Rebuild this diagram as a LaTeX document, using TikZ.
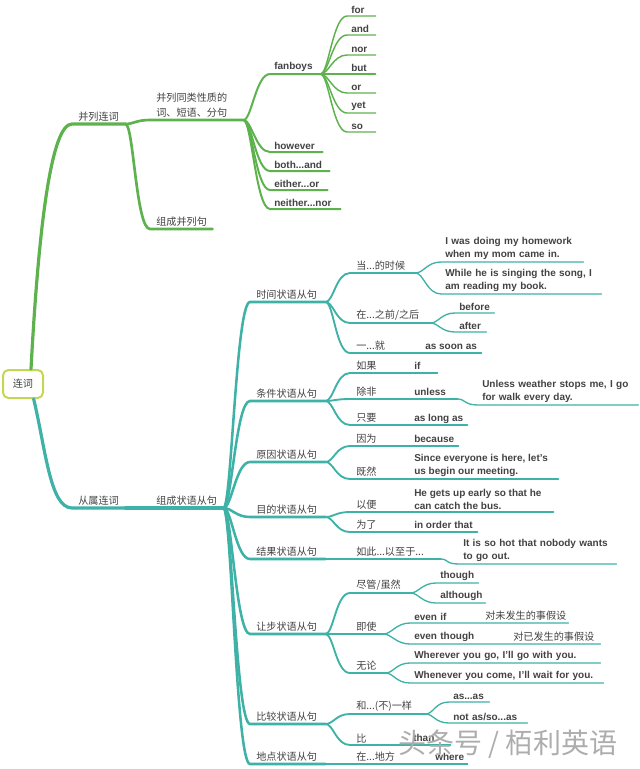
\documentclass[tikz,border=0pt]{standalone}
\usepackage{fontspec}
\setmainfont{Liberation Sans}
\newfontfamily\cjk{Noto Sans CJK SC}
\definecolor{grn}{RGB}{94,178,78}
\definecolor{tea}{RGB}{62,178,166}
\definecolor{rootc}{RGB}{196,214,84}
\definecolor{txt}{RGB}{66,66,66}

\begin{document}
\begin{tikzpicture}[x=0.75pt,y=0.75pt,yscale=-1,xscale=1,
  tp/.style={anchor=south west,inner xsep=4.5pt,inner ysep=1.5pt,align=left,text=txt,text width=#1*0.75pt-9pt},
  sn/.style={tp=#1,inner xsep=3pt,text width=#1*0.75pt-6pt},
  ft/.style={anchor=base west,inner sep=0pt,text=txt},
  en/.style={font=\fontsize{7.5}{9.75}\selectfont\bfseries},
  zh/.style={font=\cjk\fontsize{7.6}{11.25}\selectfont},
  lk/.style={to path={.. controls +(8,0) and +(-14,0) .. (\tikztotarget)}},
  gl/.style={draw=grn,line width=#1,line cap=round},
  tl/.style={draw=tea,line width=#1,line cap=round}]
\useasboundingbox (0,0) rectangle (640,769);

% Root
\node[draw=rootc,line width=1.5pt,rounded corners=4pt,fill=white,minimum width=30pt,minimum height=21pt,text=txt,zh] (root) at (23,384) {连词};

%Branch: 并列连词
\node[tp=53,zh] (bl) at (72,124) {并列连词};
\node[tp=93,zh] (tlx) at (150,120) {并列同类性质的\\词、短语、分句};
\node[tp=62,zh] (zb) at (150,229) {组成并列句};
\node[sn=50,en] (fb) at (270,74) {fanboys};
\node[sn=52,en] (hw) at (270,152) {however};
\node[sn=59,en] (ba) at (270,171) {both...and};
\node[sn=57,en] (eo) at (270,190) {either...or};
\node[sn=70,en] (nn) at (270,209) {neither...nor};
\node[sn=28,en] (fw1) at (347,16) {for};
\node[sn=28,en] (fw2) at (347,35) {and};
\node[sn=28,en] (fw3) at (347,55) {nor};
\node[sn=28,en] (fw4) at (347,74) {but};
\node[sn=28,en] (fw5) at (347,93) {or};
\node[sn=28,en] (fw6) at (347,113) {yet};
\node[sn=28,en] (fw7) at (347,132) {so};

\draw[gl=2.4pt] ([xshift=6pt]root.north) .. controls +(8,-150) and +(-20,0) .. (bl.south west) -- (bl.south east);
\draw[gl=2pt] (bl.south east) to[lk] (tlx.south west) -- (tlx.south east);
\draw[gl=2pt] (bl.south east) to[lk] (zb.south west) -- (zb.south east);
\draw[gl=1.5pt] (tlx.south east) to[lk] (fb.south west) -- (fb.south east);
\draw[gl=1.5pt] (tlx.south east) to[lk] (hw.south west) -- (hw.south east);
\draw[gl=1.5pt] (tlx.south east) to[lk] (ba.south west) -- (ba.south east);
\draw[gl=1.5pt] (tlx.south east) to[lk] (eo.south west) -- (eo.south east);
\draw[gl=1.5pt] (tlx.south east) to[lk] (nn.south west) -- (nn.south east);
\draw[gl=1.1pt] (fb.south east) to[lk] (fw1.south west) -- (fw1.south east);
\draw[gl=1.1pt] (fb.south east) to[lk] (fw2.south west) -- (fw2.south east);
\draw[gl=1.1pt] (fb.south east) to[lk] (fw3.south west) -- (fw3.south east);
\draw[gl=1.1pt] (fb.south east) to[lk] (fw4.south west) -- (fw4.south east);
\draw[gl=1.1pt] (fb.south east) to[lk] (fw5.south west) -- (fw5.south east);
\draw[gl=1.1pt] (fb.south east) to[lk] (fw6.south west) -- (fw6.south east);
\draw[gl=1.1pt] (fb.south east) to[lk] (fw7.south west) -- (fw7.south east);

%Branch: 从属连词
\node[tp=53,zh] (cs) at (72,508) {从属连词};
\node[tp=73,zh] (zz) at (150,508) {组成状语从句};
\node[tp=75,zh] (sj) at (250,302) {时间状语从句};
\node[tp=75,zh] (tj) at (250,401) {条件状语从句};
\node[tp=75,zh] (yy) at (250,462) {原因状语从句};
\node[tp=75,zh] (md) at (250,517) {目的状语从句};
\node[tp=75,zh] (jg) at (250,559) {结果状语从句};
\node[tp=75,zh] (rb) at (250,634) {让步状语从句};
\node[tp=75,zh] (bj) at (250,724) {比较状语从句};
\node[tp=75,zh] (dd) at (250,764) {地点状语从句};

\draw[tl=2.4pt] ([xshift=8pt]root.south) .. controls +(12,50) and +(-22,0) .. (cs.south west) -- (cs.south east);
\draw[tl=2.4pt] (cs.south east) to[lk] (zz.south west) -- (zz.south east);
\draw[tl=1.9pt] (zz.south east) to[lk] (sj.south west) -- (sj.south east);
\draw[tl=1.9pt] (zz.south east) to[lk] (tj.south west) -- (tj.south east);
\draw[tl=1.9pt] (zz.south east) to[lk] (yy.south west) -- (yy.south east);
\draw[tl=1.9pt] (zz.south east) to[lk] (md.south west) -- (md.south east);
\draw[tl=1.9pt] (zz.south east) to[lk] (jg.south west) -- (jg.south east);
\draw[tl=1.9pt] (zz.south east) to[lk] (rb.south west) -- (rb.south east);
\draw[tl=1.9pt] (zz.south east) to[lk] (bj.south west) -- (bj.south east);
\draw[tl=1.9pt] (zz.south east) to[lk] (dd.south west) -- (dd.south east);

% 时间状语从句
\node[tp=65,zh] (dang) at (350,273) {当...的时候};
\node[tp=80,zh] (zai) at (350,323) {在...之前/之后};
\node[tp=131,zh] (yj) at (350,353) {一...就};
\node[ft,en] (asa) at (425,349) {as soon as};
\node[sn=142,en] (s1) at (441,262) {I was doing my homework\\when my mom came in.};
\node[sn=160,en] (s2) at (441,294) {While he is singing the song, I\\am reading my book.};
\node[sn=39,en] (bf) at (455,313) {before};
\node[sn=31,en] (af) at (455,332) {after};
\draw[tl=1.4pt] (sj.south east) to[lk] (dang.south west) -- (dang.south east);
\draw[tl=1.4pt] (sj.south east) to[lk] (zai.south west) -- (zai.south east);
\draw[tl=1.4pt] (sj.south east) to[lk] (yj.south west) -- (yj.south east);
\draw[tl=1pt] (dang.south east) to[lk] (s1.south west) -- (s1.south east);
\draw[tl=1pt] (dang.south east) to[lk] (s2.south west) -- (s2.south east);
\draw[tl=1pt] (zai.south east) to[lk] (bf.south west) -- (bf.south east);
\draw[tl=1pt] (zai.south east) to[lk] (af.south west) -- (af.south east);

% 条件状语从句
\node[tp=87,zh] (rg) at (350,373) {如果};
\node[ft,en] (ifw) at (414,369) {if};
\node[tp=107,zh] (cf) at (350,399) {除非};
\node[ft,en] (unl) at (414,395) {unless};
\node[tp=117,zh] (zy) at (350,425) {只要};
\node[ft,en] (alw) at (414,421) {as long as};
\node[sn=160,en] (uw) at (478,405) {Unless weather stops me, I go\\for walk every day.};
\draw[tl=1.4pt] (tj.south east) to[lk] (rg.south west) -- (rg.south east);
\draw[tl=1.4pt] (tj.south east) to[lk] (cf.south west) -- (cf.south east);
\draw[tl=1.4pt] (tj.south east) to[lk] (zy.south west) -- (zy.south east);
\draw[tl=1pt] (cf.south east) to[lk] (uw.south west) -- (uw.south east);

% 原因状语从句
\node[tp=108,zh] (yw) at (350,446) {因为};
\node[ft,en] (bec) at (414,442) {because};
\node[tp=208,zh] (jr) at (350,479) {既然};
\node[anchor=south west,inner xsep=0pt,inner ysep=1.5pt,align=left,text=txt,en] (snc) at (414,479) {Since everyone is here, let's\\us begin our meeting.};
\draw[tl=1.4pt] (yy.south east) to[lk] (yw.south west) -- (yw.south east);
\draw[tl=1.4pt] (yy.south east) to[lk] (jr.south west) -- (jr.south east);

% 目的状语从句
\node[tp=203,zh] (yb) at (350,512) {以便};
\node[anchor=south west,inner xsep=0pt,inner ysep=1.5pt,align=left,text=txt,en] (hg) at (414,512) {He gets up early so that he\\can catch the bus.};
\node[tp=127,zh] (wl) at (350,532) {为了};
\node[ft,en] (iot) at (414,528) {in order that};
\draw[tl=1.4pt] (md.south east) to[lk] (yb.south west) -- (yb.south east);
\draw[tl=1.4pt] (md.south east) to[lk] (wl.south west) -- (wl.south east);

% 结果状语从句
\node[tp=90,zh] (rc) at (350,559) {如此...以至于...};
\node[sn=157,en] (hot) at (459,564) {It is so hot that nobody wants\\to go out.};
\draw[tl=1.4pt] (jg.south east) to[lk] (rc.south west) -- (rc.south east);
\draw[tl=1pt] (rc.south east) to[lk] (hot.south west) -- (hot.south east);

% 让步状语从句
\node[tp=60,zh] (jgs) at (350,593) {尽管/虽然};
\node[sn=42,en] (th) at (436,583) {though};
\node[sn=49,en] (alt) at (436,603) {although};
\node[tp=33,zh] (js) at (350,634) {即使};
\node[sn=158,en] (evi) at (410,623) {even if};
\node[ft,zh] (wfs) at (485,619) {对未发生的事假设};
\node[sn=190,en] (evt) at (410,644) {even though};
\node[ft,zh] (yfs) at (513,640) {对已发生的事假设};
\node[tp=35,zh] (wlun) at (350,673) {无论};
\node[sn=190,en] (wh1) at (410,663) {Wherever you go, I'll go with you.};
\node[sn=193,en] (wh2) at (410,683) {Whenever you come, I'll wait for you.};
\draw[tl=1.4pt] (rb.south east) to[lk] (jgs.south west) -- (jgs.south east);
\draw[tl=1.4pt] (rb.south east) to[lk] (js.south west) -- (js.south east);
\draw[tl=1.4pt] (rb.south east) to[lk] (wlun.south west) -- (wlun.south east);
\draw[tl=1pt] (jgs.south east) to[lk] (th.south west) -- (th.south east);
\draw[tl=1pt] (jgs.south east) to[lk] (alt.south west) -- (alt.south east);
\draw[tl=1pt] (js.south east) to[lk] (evi.south west) -- (evi.south east);
\draw[tl=1pt] (js.south east) to[lk] (evt.south west) -- (evt.south east);
\draw[tl=1pt] (wlun.south east) to[lk] (wh1.south west) -- (wh1.south east);
\draw[tl=1pt] (wlun.south east) to[lk] (wh2.south west) -- (wh2.south east);

% 比较状语从句
\node[tp=75,zh] (hy) at (350,714) {和...(不)一样};
\node[sn=40,en] (asas) at (449,702) {as...as};
\node[sn=78,en] (nas) at (449,723) {not as/so...as};
\node[tp=100,zh] (bi) at (350,745) {比};
\node[ft,en] (than) at (413,741) {than};
\draw[tl=1.4pt] (bj.south east) to[lk] (hy.south west) -- (hy.south east);
\draw[tl=1.4pt] (bj.south east) to[lk] (bi.south west) -- (bi.south east);
\draw[tl=1pt] (hy.south east) to[lk] (asas.south west) -- (asas.south east);
\draw[tl=1pt] (hy.south east) to[lk] (nas.south west) -- (nas.south east);

% 地点状语从句
\node[tp=117,zh] (zd) at (350,764) {在...地方};
\node[ft,en] (whr) at (435,760) {where};
\draw[tl=1.4pt] (dd.south east) to[lk] (zd.south west) -- (zd.south east);

% Watermark
\node[text=black!32,font=\cjk\fontsize{21}{21}\selectfont] (wm) at (508,744) {头条号 / 栢利英语};

\end{tikzpicture}
\end{document}
